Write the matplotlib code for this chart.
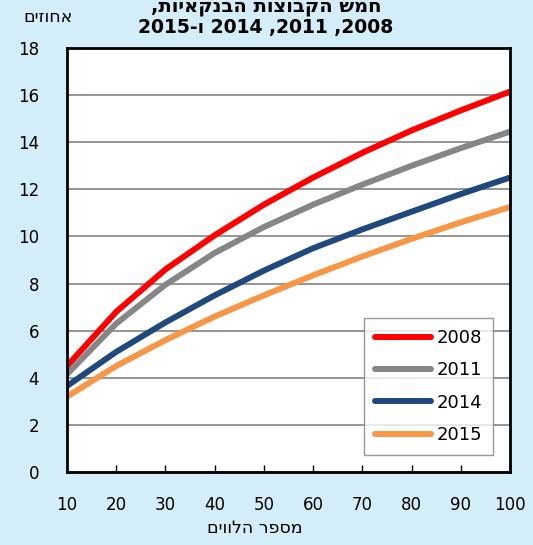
import numpy as np
import matplotlib.pyplot as plt

borrowers = [10, 20, 30, 40, 50, 60, 70, 80, 90, 100]
y2008 = [4.5, 6.8, 8.6, 10.05, 11.35, 12.5, 13.55, 14.5, 15.35, 16.15]
y2011 = [4.15, 6.3, 7.95, 9.3, 10.4, 11.35, 12.2, 13.0, 13.75, 14.45]
y2014 = [3.65, 5.1, 6.35, 7.5, 8.55, 9.5, 10.3, 11.05, 11.8, 12.5]
y2015 = [3.2, 4.5, 5.6, 6.6, 7.5, 8.35, 9.15, 9.9, 10.6, 11.25]

series = [("2008", y2008, "#ff0000"),
          ("2011", y2011, "#868686"),
          ("2014", y2014, "#1f497d"),
          ("2015", y2015, "#f79646")]

# hebrew is drawn left-to-right by matplotlib, so reverse for display
def rtl(s):
    return s[::-1]

bg = "#d3edf9"
fig = plt.figure(figsize=(5.33, 5.45), dpi=100, facecolor=bg)
ax = fig.add_axes([67/533, 73/545, 443/533, 424/545])
ax.set_facecolor("white")

for name, vals, col in series:
    ax.plot(borrowers, vals, color=col, linewidth=4.3, solid_capstyle="round",
            solid_joinstyle="round", label=name)

ax.set_xlim(10, 100)
ax.set_ylim(0, 18)
ax.set_xticks(np.arange(10, 101, 10))
ax.set_yticks(np.arange(0, 19, 2))
ax.grid(axis="y", color="#8c8c8c", linewidth=1.3)
ax.set_axisbelow(True)
ax.tick_params(axis="x", direction="in", length=5, width=1, pad=17, labelsize=12)
ax.tick_params(axis="y", length=0, pad=20, labelsize=12)
for sp in ax.spines.values():
    sp.set_linewidth(2)
    sp.set_color("black")

leg = ax.legend(loc="lower right", bbox_to_anchor=(0.962, 0.04), fontsize=13,
                handlelength=3.1, handletextpad=0.3, labelspacing=0.8,
                fancybox=False, edgecolor="#7f7f7f", borderpad=0.6,
                borderaxespad=0)
leg.get_frame().set_linewidth(1)

fig.text(48/533, 1 - 17/545, rtl("אחוזים"), fontsize=12.5, ha="center", va="center")
fig.text(266/533, 1 - 6/545, rtl("חמש הקבוצות הבנקאיות,"), fontsize=14,
         fontweight="bold", ha="center", va="center")
fig.text(266/533, 1 - 27/545, "2015-" + rtl("ו") + " 2014 ,2011 ,2008", fontsize=13.5,
         fontweight="bold", ha="center", va="center")
fig.text(255/533, 1 - 528/545, rtl("מספר הלווים"), fontsize=12.5, ha="center", va="center")

fig.savefig("out.png", dpi=100, facecolor=bg)
